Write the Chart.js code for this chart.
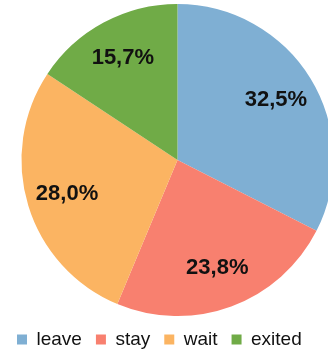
<!DOCTYPE html>
<html>
<head>
<meta charset="utf-8">
<script src="https://cdn.jsdelivr.net/npm/chart.js@4/dist/chart.umd.min.js"></script>
<style>
    html, body { margin: 0; padding: 0; background: #fff; overflow: hidden; }
    #wrap { position: relative; width: 352px; height: 359px; }
</style>
</head>
<body>
<div id="wrap"><canvas id="canvas-pie"></canvas></div>
<script>
'use strict';

/* global Chart */

const categories = ['leave', 'stay', 'wait', 'exited'];
const shares = [32.5, 23.8, 28.0, 15.7];
const sliceColors = ['#7FAFD3', '#F8806F', '#FBB462', '#70AB47'];

// Étiquettes des pourcentages au milieu de chaque part
const pctLabels = {
    id: 'pctLabels',
    afterDatasetsDraw(chart) {
        const ctx = chart.ctx;
        const meta = chart.getDatasetMeta(0);
        ctx.save();
        ctx.font = 'bold 22px "Liberation Sans", Arial, sans-serif';
        ctx.fillStyle = '#111';
        ctx.textAlign = 'center';
        ctx.textBaseline = 'middle';
        meta.data.forEach(function (arc, i) {
            const p = arc.getProps(['x', 'y', 'startAngle', 'endAngle', 'outerRadius'], true);
            const mid = (p.startAngle + p.endAngle) / 2;
            const r = p.outerRadius * 0.74;
            const txt = shares[i].toFixed(1).replace('.', ',') + '%';
            ctx.fillText(txt, p.x + Math.cos(mid) * r, p.y + Math.sin(mid) * r);
        });
        ctx.restore();
    }
};

document.addEventListener('DOMContentLoaded', function () {
    const ctx = document.getElementById('canvas-pie').getContext('2d');

    // eslint-disable-next-line no-unused-vars
    let pie = new Chart(ctx, {
        type: 'pie',
        data: {
            labels: categories,
            datasets: [{
                data: shares,
                backgroundColor: sliceColors,
                borderWidth: 0
            }]
        },
        options: {
            responsive: true,
            maintainAspectRatio: false,
            animation: false,
            layout: { padding: { left: 3, top: 4, right: 0, bottom: 0 } },
            plugins: {
                tooltip: { enabled: false },
                legend: {
                    position: 'bottom',
                    align: 'start',
                    labels: {
                        boxWidth: 10,
                        boxHeight: 10,
                        padding: 14,
                        color: '#111',
                        font: { family: '"Liberation Sans", Arial, sans-serif', size: 19 }
                    }
                }
            }
        },
        plugins: [pctLabels]
    });
});
</script>
</body>
</html>
